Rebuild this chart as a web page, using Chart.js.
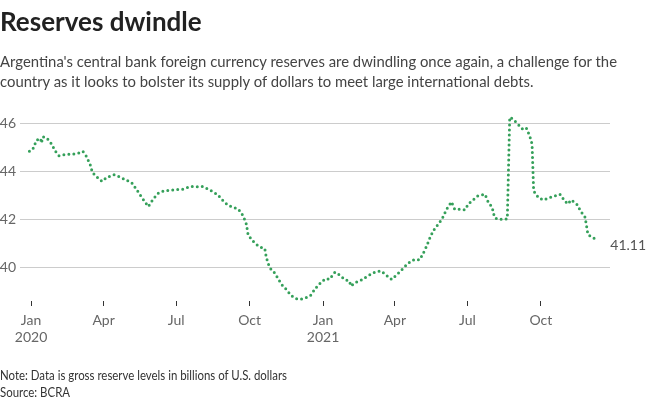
<!DOCTYPE html>
<html>
<head>
<meta charset="utf-8">
<script src="https://cdn.jsdelivr.net/npm/chart.js@4"></script>
<style>
  body { margin: 0; width: 650px; height: 403px; overflow: hidden; background: #fff; font-family: Lato, sans-serif; }
  #wrap { position: relative; width: 650px; height: 403px; }
  #chart { position: absolute; left: 0; top: 0; }
  .title { position: absolute; left: 0; top: 6px; font-size: 26px; line-height: 31px; font-weight: 700; color: #222; }
  .sub { position: absolute; left: 0; top: 51px; font-size: 16px; line-height: 20px; color: #444; white-space: nowrap; transform-origin: 0 0; }
  .foot { position: absolute; left: 0; top: 367px; font-size: 13px; line-height: 17px; color: #333; white-space: nowrap; transform-origin: 0 0; }
</style>
</head>
<body>
<div id="wrap">
  <canvas id="chart" width="650" height="403"></canvas>
  <div class="title">Reserves dwindle</div>
  <div class="sub" id="sub"><span id="subLine">Argentina's central bank foreign currency reserves are dwindling once again, a challenge for the</span><br>country as it looks to bolster its supply of dollars to meet large international debts.</div>
  <div class="foot" id="foot"><span id="footLine">Note: Data is gross reserve levels in billions of U.S. dollars</span><br>Source: BCRA</div>
</div>
<script>
// gross reserves, billions of USD
const dates = [
  "2019-12-30", "2020-01-03", "2020-01-08", "2020-01-13", "2020-01-14", "2020-01-16",
  "2020-01-21", "2020-01-27", "2020-01-31", "2020-02-05", "2020-02-12", "2020-02-23",
  "2020-03-01", "2020-03-06", "2020-03-10", "2020-03-15", "2020-03-18", "2020-03-24",
  "2020-03-30", "2020-04-05", "2020-04-14", "2020-04-21", "2020-04-29", "2020-05-06",
  "2020-05-12", "2020-05-19", "2020-05-27", "2020-06-02", "2020-06-08", "2020-06-15",
  "2020-06-27", "2020-07-09", "2020-07-19", "2020-07-26", "2020-08-03", "2020-08-12",
  "2020-08-22", "2020-08-29", "2020-09-04", "2020-09-10", "2020-09-17", "2020-09-23",
  "2020-09-27", "2020-09-29", "2020-10-03", "2020-10-09", "2020-10-16", "2020-10-20",
  "2020-10-22", "2020-10-26", "2020-11-01", "2020-11-05", "2020-11-10", "2020-11-16",
  "2020-11-22", "2020-11-29", "2020-12-04", "2020-12-11", "2020-12-17", "2020-12-22",
  "2020-12-29", "2021-01-04", "2021-01-09", "2021-01-16", "2021-01-22", "2021-01-28",
  "2021-02-03", "2021-02-05", "2021-02-10", "2021-02-18", "2021-02-26", "2021-03-07",
  "2021-03-15", "2021-03-21", "2021-03-28", "2021-04-04", "2021-04-11", "2021-04-17",
  "2021-04-24", "2021-04-26", "2021-05-02", "2021-05-06", "2021-05-11", "2021-05-16",
  "2021-05-21", "2021-05-27", "2021-05-31", "2021-06-05", "2021-06-11", "2021-06-15",
  "2021-06-21", "2021-06-28", "2021-07-02", "2021-07-08", "2021-07-14", "2021-07-23",
  "2021-07-27", "2021-08-01", "2021-08-04", "2021-08-08", "2021-08-17", "2021-08-20",
  "2021-08-23", "2021-08-27", "2021-09-02", "2021-09-09", "2021-09-13", "2021-09-17",
  "2021-09-20", "2021-09-22", "2021-09-28", "2021-10-04", "2021-10-12", "2021-10-25",
  "2021-10-31", "2021-11-04", "2021-11-08", "2021-11-15", "2021-11-21", "2021-11-25",
  "2021-11-27", "2021-11-29", "2021-12-03", "2021-12-12"
];
const reserves = [
  44.83, 44.89, 45.29, 45.36, 45.17, 45.43,
  45.37, 45.12, 44.85, 44.64, 44.69, 44.71,
  44.75, 44.82, 44.64, 44.29, 43.94, 43.74,
  43.57, 43.74, 43.85, 43.76, 43.63, 43.53,
  43.25, 42.90, 42.53, 42.83, 43.07, 43.17,
  43.22, 43.25, 43.36, 43.35, 43.36, 43.22,
  43.02, 42.76, 42.58, 42.51, 42.42, 42.14,
  41.79, 41.37, 41.17, 40.96, 40.82, 40.78,
  40.40, 39.99, 39.78, 39.57, 39.29, 39.08,
  38.83, 38.69, 38.67, 38.74, 38.85, 39.11,
  39.36, 39.53, 39.50, 39.80, 39.68, 39.50,
  39.43, 39.22, 39.36, 39.47, 39.64, 39.80,
  39.85, 39.68, 39.50, 39.71, 39.94, 40.15,
  40.30, 40.33, 40.31, 40.54, 40.89, 41.31,
  41.61, 41.86, 42.07, 42.42, 42.72, 42.42,
  42.42, 42.39, 42.63, 42.80, 42.97, 43.04,
  42.72, 42.49, 42.07, 42.00, 42.00, 42.02,
  46.24, 46.17, 45.96, 45.72, 45.78, 45.47,
  45.13, 43.18, 42.90, 42.80, 42.90, 43.04,
  42.76, 42.63, 42.80, 42.63, 42.28, 42.14,
  41.79, 41.37, 41.28, 41.11
];
const tickDates = ["2020-01-01", "2020-04-01", "2020-07-01", "2020-10-01", "2021-01-01", "2021-04-01", "2021-07-01", "2021-10-01"];
const tickLabels = [["Jan", "2020"], "Apr", "Jul", "Oct", ["Jan", "2021"], "Apr", "Jul", "Oct"];
const yTicks = [40, 42, 44, 46];
const lastLabel = "41.11";

// squeeze the wide fallback font to the reference line widths
function fitWidth(boxId, lineId, target) {
  const w = document.getElementById(lineId).getBoundingClientRect().width;
  document.getElementById(boxId).style.transform = "scaleX(" + (target / w) + ")";
}
fitWidth("sub", "subLine", 617);
fitWidth("foot", "footLine", 287);

const origin = Date.UTC(2020, 0, 1);
function toDay(s) {
  const p = s.split("-").map(Number);
  return (Date.UTC(p[0], p[1] - 1, p[2]) - origin) / 86400000;
}

const points = dates.map((d, i) => ({ x: toDay(d), y: reserves[i] }));
const tickDays = tickDates.map(toDay);

const lastValuePlugin = {
  id: "lastValue",
  afterDatasetsDraw(chart) {
    const meta = chart.getDatasetMeta(0);
    const pt = meta.data[meta.data.length - 1];
    const ctx = chart.ctx;
    ctx.save();
    ctx.font = "14px Lato";
    ctx.fillStyle = "#555";
    ctx.textAlign = "left";
    ctx.textBaseline = "middle";
    ctx.fillText(lastLabel, pt.x + 12, pt.y + 5);
    ctx.restore();
  },
};

const ctx = document.getElementById("chart").getContext("2d");
new Chart(ctx, {
  type: "line",
  data: {
    datasets: [
      {
        data: points,
        borderColor: "#35a05a",
        borderWidth: 3,
        borderDash: [0, 5],
        borderCapStyle: "round",
        pointRadius: 0,
        tension: 0,
        fill: false,
      },
    ],
  },
  options: {
    responsive: false,
    animation: false,
    layout: { padding: { top: 111, right: 40, left: 0, bottom: 0 } },
    plugins: { legend: { display: false }, tooltip: { enabled: false } },
    scales: {
      x: {
        type: "linear",
        min: -13.8,
        max: 725.7,
        afterBuildTicks: (scale) => {
          scale.ticks = tickDays.map((v) => ({ value: v }));
        },
        afterFit: (scale) => {
          scale.height = 102;
        },
        ticks: {
          autoSkip: false,
          maxRotation: 0,
          padding: 6,
          color: "#666",
          font: { family: "Lato", size: 14 },
          callback: (value, index) => tickLabels[index],
        },
        grid: {
          display: true,
          drawOnChartArea: false,
          drawTicks: true,
          tickLength: 5,
          color: "#333",
        },
        border: { display: false },
      },
      y: {
        min: 38.6,
        max: 46.5,
        afterBuildTicks: (scale) => {
          scale.ticks = yTicks.map((v) => ({ value: v }));
        },
        afterFit: (scale) => {
          scale.width = 20;
        },
        ticks: {
          padding: 4,
          color: "#666",
          font: { family: "Lato", size: 14 },
        },
        grid: { color: "#cccccc", drawTicks: false },
        border: { display: false },
      },
    },
  },
  plugins: [lastValuePlugin],
});
</script>
</body>
</html>
